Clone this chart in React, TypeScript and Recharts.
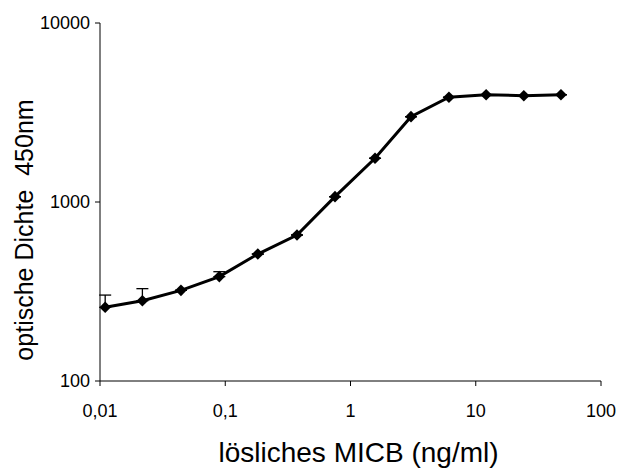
import React from 'react';
import { LineChart, Line, XAxis, YAxis, ErrorBar } from 'recharts';

const concentrations = [0.011, 0.0218, 0.0443, 0.0897, 0.182, 0.374, 0.752, 1.57, 3.04, 6.11, 12.1, 24.2, 47.9];
const density = [258, 281, 321, 383, 512, 654, 1071, 1754, 2997, 3846, 3975, 3924, 3975];
const errorUp = [44, 47, 0, 25, 0, 0, 0, 0, 0, 0, 0, 0, 0];
const xTicks = [0.01, 0.1, 1, 10, 100];
const yTicks = [100, 1000, 10000];
const xTitle = 'lösliches MICB (ng/ml)';
const yTitle = 'optische Dichte  450nm';

const data = concentrations.map((c, i) => ({ x: c, y: density[i], err: [0, errorUp[i]] }));

const FONT = '"Liberation Sans", Arial, sans-serif';

const Diamond = (props: any) => {
  const { cx, cy, index } = props;
  if (cx == null || cy == null) return null;
  const r = 5.8;
  return (
    <polygon
      key={`d-${index}`}
      points={`${cx},${cy - r} ${cx + r},${cy} ${cx},${cy + r} ${cx - r},${cy}`}
      fill="#000"
    />
  );
};

const XTitle = (props: any) => {
  const vb = props.viewBox || {};
  return (
    <text
      x={vb.x + vb.width / 2 + 8}
      y={vb.y + 81}
      textAnchor="middle"
      fill="#000"
      fontSize={28}
      fontFamily={FONT}
    >
      {xTitle}
    </text>
  );
};

const YTitle = (props: any) => {
  const vb = props.viewBox || {};
  const x = vb.x + 33;
  const y = vb.y + vb.height / 2 + 28;
  return (
    <text
      x={x}
      y={y}
      transform={`rotate(-90, ${x}, ${y})`}
      textAnchor="middle"
      fill="#000"
      fontSize={25}
      fontFamily={FONT}
      style={{ whiteSpace: 'pre' }}
    >
      {yTitle}
    </text>
  );
};

export default function App() {
  return (
    <div style={{ position: 'absolute', left: 0, top: 0, width: 618, height: 468, background: '#fff' }}>
      <LineChart width={618} height={468} data={data} margin={{ top: 23, right: 17, bottom: 0, left: 0 }}>
        <XAxis
          dataKey="x"
          type="number"
          scale="log"
          domain={[0.01, 100]}
          ticks={xTicks}
          allowDataOverflow
          height={87}
          tickFormatter={(v: number) => String(v).replace('.', ',')}
          stroke="#000"
          tickSize={5}
          tickMargin={18}
          tick={{ fill: '#000', fontSize: 18, fontFamily: FONT }}
          label={<XTitle />}
        />
        <YAxis
          dataKey="y"
          type="number"
          scale="log"
          domain={[100, 10000]}
          ticks={yTicks}
          allowDataOverflow
          width={100}
          stroke="#000"
          tickSize={5}
          tickMargin={5}
          tick={{ fill: '#000', fontSize: 18, fontFamily: FONT }}
          label={<YTitle />}
        />
        <Line
          type="linear"
          dataKey="y"
          stroke="#000"
          strokeWidth={3}
          dot={Diamond}
          activeDot={false}
          isAnimationActive={false}
        >
          <ErrorBar dataKey="err" direction="y" width={6} stroke="#000" strokeWidth={1.3} isAnimationActive={false} />
        </Line>
      </LineChart>
    </div>
  );
}
